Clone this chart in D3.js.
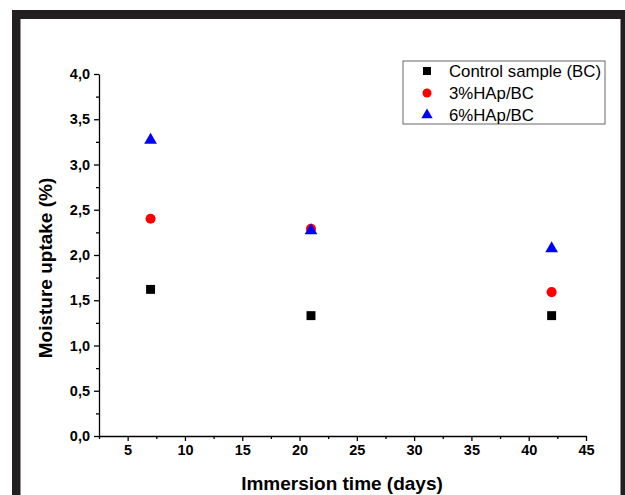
<!DOCTYPE html>
<html>
<head>
<meta charset="utf-8">
<script src="https://cdn.jsdelivr.net/npm/d3@7/dist/d3.min.js"></script>
<style>
  html, body { margin: 0; padding: 0; background: #fff; }
  svg { display: block; }
  text { font-family: "Liberation Sans", Arial, sans-serif; }
</style>
</head>
<body>
<svg id="chart" width="625" height="495"></svg>
<script>
// Immersion time (days) at which moisture uptake was measured
const days = [7, 21, 42];

// Moisture uptake (%) for each sample
const controlBC = [1.62, 1.33, 1.33];
const hap3BC = [2.40, 2.29, 1.59];
const hap6BC = [3.27, 2.27, 2.07];

const seriesNames = ["Control sample (BC)", "3%HAp/BC", "6%HAp/BC"];

const xTicks = [5, 10, 15, 20, 25, 30, 35, 40, 45];
const yTicks = [0, 0.5, 1.0, 1.5, 2.0, 2.5, 3.0, 3.5, 4.0];
const xMinorTicks = [2.5, 7.5, 12.5, 17.5, 22.5, 27.5, 32.5, 37.5, 42.5];
const yMinorTicks = [0.25, 0.75, 1.25, 1.75, 2.25, 2.75, 3.25, 3.75];

const series = [
  { name: seriesNames[0], values: controlBC, shape: d3.symbolSquare, color: "#000000", size: 80 },
  { name: seriesNames[1], values: hap3BC, shape: d3.symbolCircle, color: "#ff0000", size: 80 },
  { name: seriesNames[2], values: hap6BC, shape: d3.symbolTriangle, color: "#0000ff", size: 70 }
];

const svg = d3.select("#chart");

// dark frame around the plot panel
const frame = "#231f20";
svg.append("rect").attr("x", 12).attr("y", 10).attr("width", 613).attr("height", 9).attr("fill", frame);
svg.append("rect").attr("x", 12).attr("y", 10).attr("width", 8.5).attr("height", 485).attr("fill", frame);
svg.append("rect").attr("x", 620.5).attr("y", 10).attr("width", 4.5).attr("height", 485).attr("fill", frame);

const x = d3.scaleLinear().domain([2.5, 45]).range([99, 586]);
const y = d3.scaleLinear().domain([0, 4]).range([436, 74]);

const fmt = d => d3.format(".1f")(d).replace(".", ",");

// x axis
const gx = svg.append("g").attr("transform", `translate(0,${y(0)})`);
gx.call(d3.axisBottom(x).tickValues(xTicks).tickFormat(d3.format("d")).tickSize(5).tickSizeOuter(0).tickPadding(4));
gx.append("g").call(d3.axisBottom(x).tickValues(xMinorTicks).tickFormat("").tickSize(3).tickSizeOuter(0))
  .select(".domain").remove();

// y axis
const gy = svg.append("g").attr("transform", `translate(${x(2.5)},0)`);
gy.call(d3.axisLeft(y).tickValues(yTicks).tickFormat(fmt).tickSize(5).tickSizeOuter(0).tickPadding(4));
gy.append("g").call(d3.axisLeft(y).tickValues(yMinorTicks).tickFormat("").tickSize(3).tickSizeOuter(0))
  .select(".domain").remove();

svg.selectAll(".domain").attr("stroke", "#000").attr("stroke-width", 1.3);
svg.selectAll(".tick line").attr("stroke", "#000").attr("stroke-width", 1.3);
svg.selectAll(".tick text")
  .attr("font-family", "'Liberation Sans', Arial, sans-serif")
  .attr("font-size", 14.5).attr("font-weight", "bold").attr("fill", "#000");

// axis titles
svg.append("text")
  .attr("x", 342).attr("y", 490)
  .attr("text-anchor", "middle")
  .attr("font-size", 19).attr("font-weight", "bold")
  .text("Immersion time (days)");

svg.append("text")
  .attr("transform", "translate(52,268) rotate(-90)")
  .attr("text-anchor", "middle")
  .attr("font-size", 19).attr("font-weight", "bold")
  .text("Moisture uptake (%)");

// data points
series.forEach(s => {
  svg.append("g").selectAll("path")
    .data(days.map((d, i) => [d, s.values[i]]))
    .join("path")
    .attr("transform", d => `translate(${x(d[0])},${y(d[1])})`)
    .attr("d", d3.symbol().type(s.shape).size(s.size))
    .attr("fill", s.color);
});

// legend
const legend = svg.append("g");
legend.append("rect")
  .attr("x", 403).attr("y", 61).attr("width", 202).attr("height", 63)
  .attr("fill", "#fff").attr("stroke", "#666").attr("stroke-width", 1);
series.forEach((s, i) => {
  const ly = 71 + i * 22;
  legend.append("path")
    .attr("transform", `translate(427,${ly})`)
    .attr("d", d3.symbol().type(s.shape).size(s.size * 0.8))
    .attr("fill", s.color);
  legend.append("text")
    .attr("x", 449).attr("y", ly + 6)
    .attr("font-size", 16.8).attr("fill", "#000")
    .text(s.name);
});
</script>
</body>
</html>
